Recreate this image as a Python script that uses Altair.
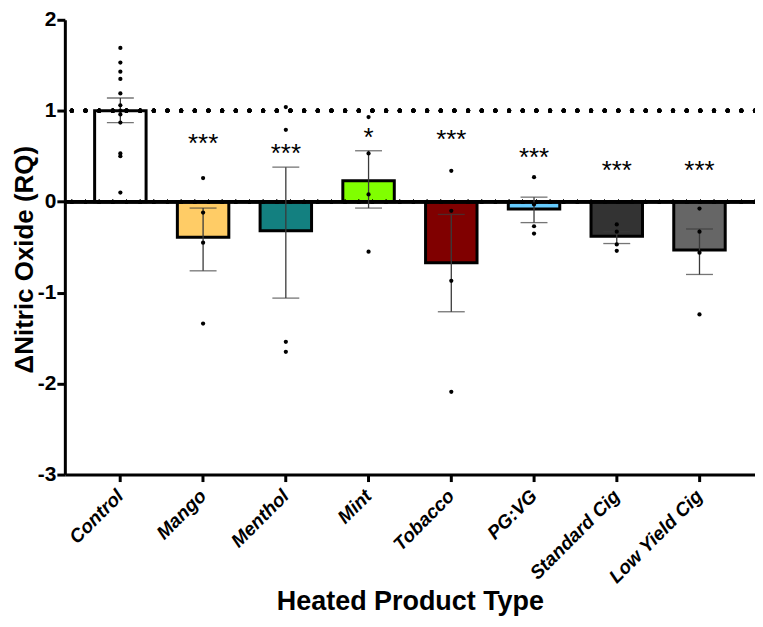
import altair as alt
import pandas as pd

categories = ["Control", "Mango", "Menthol", "Mint", "Tobacco", "PG:VG", "Standard Cig", "Low Yield Cig"]
means = [1.00, -0.39, -0.32, 0.23, -0.67, -0.08, -0.38, -0.53]
err_lo = [0.87, -0.76, -1.06, -0.07, -1.21, -0.23, -0.46, -0.80]
err_hi = [1.14, -0.07, 0.38, 0.56, -0.14, 0.05, -0.33, -0.30]
colors = ["#FFFFFF", "#FFCC66", "#138080", "#80FF00", "#800000", "#66CCFF", "#333333", "#666666"]
stars = ["", "***", "***", "*", "***", "***", "***", "***"]
star_y = [None, 0.71, 0.60, 0.78, 0.75, 0.56, 0.41, 0.41]

pt_cat = (["Control"] * 12 + ["Mango"] * 4 + ["Menthol"] * 4 + ["Mint"] * 4 + ["Tobacco"] * 4
          + ["PG:VG"] * 4 + ["Standard Cig"] * 4 + ["Low Yield Cig"] * 4)
pt_val = [1.69, 1.53, 1.43, 1.35, 1.19, 1.06, 1.00, 0.96, 0.87, 0.53, 0.50, 0.10,
          0.26, -0.12, -0.45, -1.34,
          1.04, 0.79, -1.54, -1.65,
          0.93, 0.53, 0.08, -0.55,
          0.34, -0.10, -0.87, -2.09,
          0.27, -0.03, -0.27, -0.35,
          -0.25, -0.33, -0.47, -0.54,
          -0.075, -0.33, -0.56, -1.24]

bars_df = pd.DataFrame({"cat": categories, "mean": means, "lo": err_lo, "hi": err_hi,
                        "color": colors, "star": stars, "star_y": star_y})
pts_df = pd.DataFrame({"cat": pt_cat, "val": pt_val})

FONT = "Liberation Sans"

x_enc = alt.X("cat:N", sort=categories,
              scale=alt.Scale(paddingInner=0.378, paddingOuter=0.36),
              axis=alt.Axis(labelAngle=-45, labelAlign="right", labelBaseline="middle",
                            labelFontStyle="italic", labelFontWeight="bold", labelFontSize=19,
                            labelFont=FONT, labelColor="black", labelPadding=11,
                            tickSize=7, tickWidth=3, tickColor="black",
                            domainWidth=3, domainColor="black",
                            titleFont=FONT, titleFontSize=27, titleFontWeight="bold",
                            titleColor="black", titleBaseline="alphabetic", titleY=135),
              title="Heated Product Type")

y_scale = alt.Scale(domain=[-3, 2], nice=False, zero=False)
y_axis = alt.Axis(values=[-3, -2, -1, 0, 1, 2], labelExpr="'' + datum.value",
                  labelFontSize=21, labelFontWeight="bold", labelFont=FONT, labelColor="black",
                  labelPadding=1, tickSize=8, tickWidth=3, tickColor="black",
                  domainWidth=3, domainColor="black", grid=False,
                  titleFont=FONT, titleFontSize=26, titleFontWeight="bold",
                  titleColor="black", titlePadding=0, titleY=240)

base = alt.Chart(bars_df)

bars = base.mark_bar(stroke="black", strokeWidth=3).encode(
    x=x_enc,
    y=alt.Y("mean:Q", scale=y_scale, axis=y_axis, title="ΔNitric Oxide (RQ)"),
    y2=alt.datum(0),
    fill=alt.Fill("color:N", scale=None),
)

zero_line = alt.Chart(bars_df).mark_rule(color="black", strokeWidth=3).encode(y=alt.datum(0))
zero_dots = alt.Chart(bars_df).mark_rule(color="black", strokeWidth=4, strokeDash=[0, 13.7],
                                         strokeCap="round").encode(y=alt.datum(0))
one_dots = alt.Chart(bars_df).mark_rule(color="black", strokeWidth=4.3, strokeDash=[0, 13.7],
                                        strokeCap="round").encode(y=alt.datum(1))

err_line = base.mark_rule(color="#3a3a3a", strokeWidth=1.3).encode(
    x=x_enc, y=alt.Y("lo:Q"), y2="hi:Q")
err_lo_cap = base.mark_tick(color="#3a3a3a", size=27, thickness=1.3).encode(x=x_enc, y="lo:Q")
err_hi_cap = base.mark_tick(color="#3a3a3a", size=27, thickness=1.3).encode(x=x_enc, y="hi:Q")

points = alt.Chart(pts_df).mark_circle(color="black", size=18, opacity=1).encode(
    x=x_enc,
    y="val:Q",
)

star_text = base.transform_filter("datum.star != ''").mark_text(
    font=FONT, fontSize=26, baseline="alphabetic", dy=15, color="black").encode(
    x=x_enc, y="star_y:Q", text="star:N")

chart = alt.layer(bars, zero_line, zero_dots, one_dots, err_line, err_lo_cap, err_hi_cap,
                  points, star_text).properties(
    width=692, height=456,
    padding={"left": 57, "top": 11, "right": 0, "bottom": 142},
    autosize=alt.AutoSizeParams(type="none"),
).configure_view(stroke=None)

chart.save("out.html", embed_options={"renderer": "svg", "actions": False})
